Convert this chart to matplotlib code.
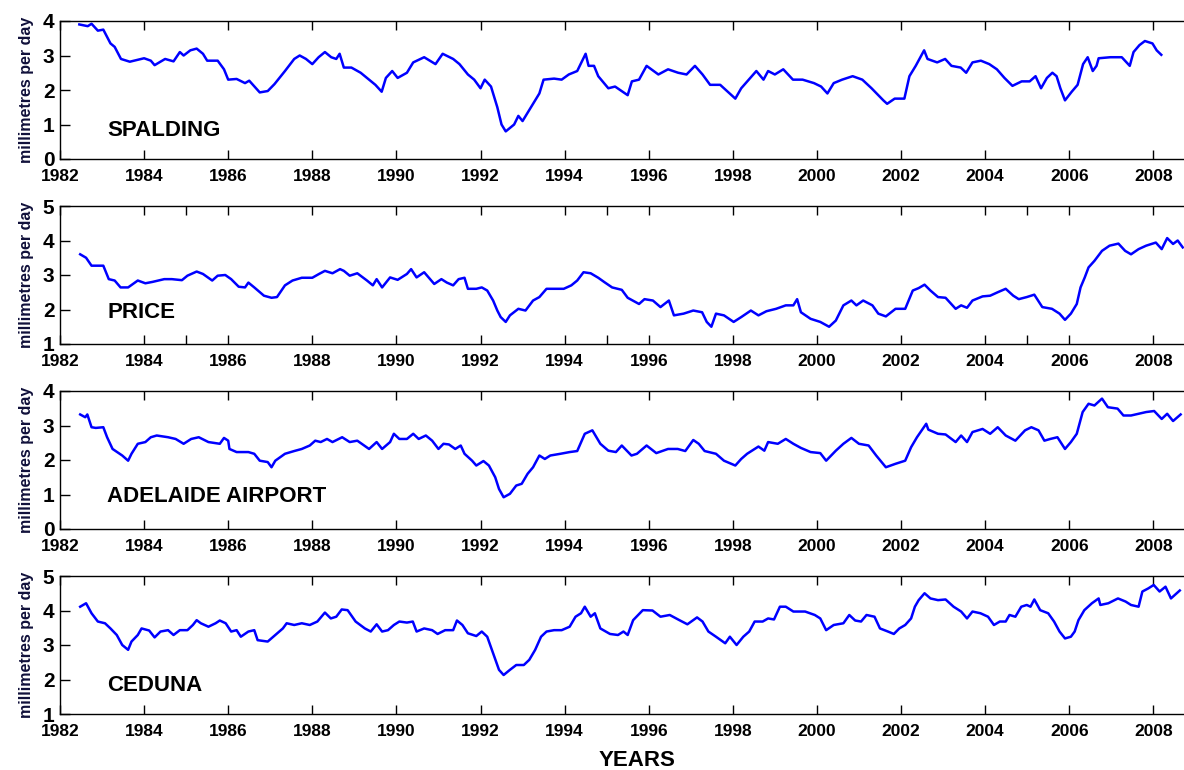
import matplotlib

matplotlib.use("Agg")
import matplotlib.pyplot as plt
from matplotlib.ticker import FixedLocator

# values, decimal years vs mm/day
spalding_t = [1982.46, 1982.66, 1982.75, 1982.9, 1983.03, 1983.2, 1983.3, 1983.45, 1983.66, 1984.0,
              1984.16, 1984.25, 1984.5, 1984.7, 1984.85, 1984.94, 1985.1, 1985.25, 1985.4, 1985.5,
              1985.75, 1985.9, 1986.0, 1986.2, 1986.4, 1986.5, 1986.75, 1986.94, 1987.1, 1987.35,
              1987.57, 1987.7, 1987.85, 1988.0, 1988.15, 1988.3, 1988.45, 1988.57, 1988.65, 1988.75,
              1988.93, 1989.15, 1989.4, 1989.5, 1989.65, 1989.75, 1989.9, 1990.03, 1990.25, 1990.4,
              1990.66, 1990.93, 1991.1, 1991.35, 1991.5, 1991.7, 1991.85, 1992.0, 1992.1, 1992.25,
              1992.4, 1992.5, 1992.6, 1992.8, 1992.9, 1993.0, 1993.2, 1993.4, 1993.5, 1993.75,
              1993.93, 1994.1, 1994.3, 1994.4, 1994.5, 1994.57, 1994.7, 1994.8, 1995.04, 1995.2,
              1995.5, 1995.6, 1995.77, 1995.95, 1996.23, 1996.46, 1996.7, 1996.9, 1997.1, 1997.28,
              1997.46, 1997.7, 1997.88, 1998.06, 1998.2, 1998.38, 1998.56, 1998.73, 1998.84, 1999.0,
              1999.2, 1999.43, 1999.66, 1999.93, 2000.1, 2000.25, 2000.4, 2000.6, 2000.85, 2001.08,
              2001.3, 2001.58, 2001.67, 2001.85, 2002.08, 2002.2, 2002.35, 2002.55, 2002.63, 2002.86,
              2003.05, 2003.2, 2003.42, 2003.55, 2003.7, 2003.9, 2004.1, 2004.28, 2004.46, 2004.65,
              2004.87, 2005.06, 2005.2, 2005.33, 2005.47, 2005.6, 2005.7, 2005.79, 2005.9, 2006.06,
              2006.2, 2006.33, 2006.44, 2006.56, 2006.65, 2006.7, 2006.98, 2007.25, 2007.44, 2007.53,
              2007.67, 2007.8, 2007.98, 2008.08, 2008.19]
spalding_v = [3.9, 3.85, 3.92, 3.72, 3.75, 3.35, 3.25, 2.9, 2.82, 2.92,
              2.85, 2.72, 2.9, 2.83, 3.1, 3.0, 3.15, 3.2, 3.05, 2.85,
              2.85, 2.6, 2.3, 2.32, 2.2, 2.27, 1.93, 1.97, 2.17, 2.55,
              2.9, 3.0, 2.9, 2.75, 2.95, 3.1, 2.95, 2.9, 3.05, 2.65,
              2.65, 2.5, 2.25, 2.15, 1.95, 2.35, 2.55, 2.35, 2.5, 2.8,
              2.95, 2.75, 3.05, 2.9, 2.75, 2.45, 2.3, 2.05, 2.3, 2.1,
              1.5, 1.0, 0.8, 1.0, 1.25, 1.1, 1.5, 1.9, 2.3, 2.33,
              2.3, 2.45, 2.55, 2.8, 3.05, 2.7, 2.7, 2.4, 2.05, 2.1,
              1.85, 2.25, 2.3, 2.7, 2.45, 2.6, 2.5, 2.45, 2.7, 2.45,
              2.15, 2.15, 1.95, 1.75, 2.05, 2.3, 2.55, 2.3, 2.55, 2.45,
              2.6, 2.3, 2.3, 2.2, 2.1, 1.9, 2.2, 2.3, 2.4, 2.3,
              2.05, 1.7, 1.6, 1.75, 1.75, 2.4, 2.7, 3.15, 2.9, 2.8,
              2.9, 2.7, 2.65, 2.5, 2.8, 2.85, 2.75, 2.6, 2.35, 2.12,
              2.25, 2.25, 2.4, 2.05, 2.35, 2.5, 2.4, 2.05, 1.7, 1.95,
              2.15, 2.75, 2.95, 2.55, 2.7, 2.92, 2.95, 2.95, 2.7, 3.1,
              3.3, 3.42, 3.35, 3.15, 3.02]

price_t = [1982.48, 1982.62, 1982.75, 1983.03, 1983.16, 1983.3, 1983.44, 1983.62, 1983.85, 1984.03,
           1984.2, 1984.48, 1984.66, 1984.9, 1985.03, 1985.25, 1985.4, 1985.62, 1985.75, 1985.93,
           1986.07, 1986.25, 1986.4, 1986.48, 1986.62, 1986.85, 1987.03, 1987.16, 1987.35, 1987.53,
           1987.75, 1988.0, 1988.16, 1988.3, 1988.48, 1988.66, 1988.75, 1988.89, 1989.07, 1989.3,
           1989.44, 1989.53, 1989.66, 1989.85, 1990.03, 1990.25, 1990.35, 1990.48, 1990.66, 1990.9,
           1991.07, 1991.2, 1991.35, 1991.48, 1991.62, 1991.7, 1991.9, 1992.03, 1992.16, 1992.3,
           1992.4, 1992.48, 1992.6, 1992.7, 1992.9, 1993.07, 1993.25, 1993.4, 1993.57, 1993.8,
           1993.98, 1994.16, 1994.3, 1994.45, 1994.62, 1994.8, 1994.95, 1995.13, 1995.36, 1995.5,
           1995.77, 1995.9, 1996.1, 1996.28, 1996.48, 1996.6, 1996.83, 1997.06, 1997.27, 1997.38,
           1997.49, 1997.6, 1997.79, 1998.02, 1998.2, 1998.43, 1998.61, 1998.8, 1999.03, 1999.26,
           1999.44, 1999.53, 1999.62, 1999.85, 2000.08, 2000.29, 2000.45, 2000.63, 2000.82, 2000.94,
           2001.1, 2001.32, 2001.46, 2001.64, 2001.87, 2002.1, 2002.28, 2002.42, 2002.56, 2002.7,
           2002.88, 2003.06, 2003.3, 2003.43, 2003.57, 2003.7, 2003.94, 2004.12, 2004.3, 2004.49,
           2004.67, 2004.8, 2004.99, 2005.17, 2005.36, 2005.59, 2005.77, 2005.9, 2006.04, 2006.18,
           2006.27, 2006.37, 2006.46, 2006.6, 2006.78, 2006.96, 2007.17, 2007.33, 2007.47, 2007.65,
           2007.83, 2008.06, 2008.2, 2008.33, 2008.47, 2008.58, 2008.7]
price_v = [3.6, 3.5, 3.27, 3.27, 2.88, 2.84, 2.64, 2.64, 2.84, 2.76,
           2.8, 2.88, 2.88, 2.85, 2.98, 3.1, 3.03, 2.84, 2.98, 3.0,
           2.88, 2.66, 2.64, 2.78, 2.64, 2.4, 2.34, 2.36, 2.7, 2.84,
           2.92, 2.92, 3.03, 3.12, 3.05, 3.17, 3.12, 2.98, 3.05, 2.84,
           2.7, 2.88, 2.64, 2.93, 2.86, 3.03, 3.17, 2.93, 3.08, 2.74,
           2.88, 2.78, 2.7, 2.88, 2.92, 2.6, 2.6, 2.64, 2.55, 2.26,
           1.97, 1.78, 1.64, 1.83, 2.02, 1.97, 2.26, 2.36, 2.6, 2.6,
           2.6, 2.7, 2.84, 3.08, 3.05, 2.92, 2.79, 2.64, 2.57, 2.34,
           2.16, 2.3, 2.26, 2.07, 2.26, 1.83, 1.88, 1.97, 1.92, 1.64,
           1.5, 1.88, 1.83, 1.64, 1.78, 1.97, 1.83, 1.95, 2.02, 2.12,
           2.12, 2.3, 1.92, 1.73, 1.64, 1.5, 1.68, 2.12, 2.26, 2.12,
           2.26, 2.12, 1.88, 1.8, 2.02, 2.02, 2.55, 2.62, 2.72, 2.55,
           2.36, 2.34, 2.02, 2.12, 2.05, 2.26, 2.38, 2.4, 2.5, 2.6,
           2.4, 2.3, 2.36, 2.43, 2.07, 2.02, 1.88, 1.7, 1.88, 2.16,
           2.64, 2.93, 3.22, 3.41, 3.7, 3.85, 3.91, 3.7, 3.6, 3.75,
           3.85, 3.94, 3.75, 4.07, 3.9, 4.0, 3.8]

adelaide_t = [1982.48, 1982.6, 1982.65, 1982.75, 1982.85, 1983.03, 1983.12, 1983.25, 1983.48, 1983.62,
              1983.7, 1983.85, 1984.03, 1984.16, 1984.3, 1984.57, 1984.75, 1984.94, 1985.12, 1985.3,
              1985.53, 1985.8, 1985.9, 1986.0, 1986.03, 1986.2, 1986.48, 1986.62, 1986.75, 1986.94,
              1987.03, 1987.12, 1987.35, 1987.57, 1987.75, 1987.94, 1988.07, 1988.2, 1988.35, 1988.48,
              1988.71, 1988.89, 1989.07, 1989.35, 1989.53, 1989.66, 1989.85, 1989.94, 1990.07, 1990.25,
              1990.4, 1990.53, 1990.7, 1990.85, 1991.0, 1991.12, 1991.25, 1991.4, 1991.53, 1991.62,
              1991.8, 1991.9, 1992.07, 1992.2, 1992.35, 1992.44, 1992.55, 1992.7, 1992.85, 1992.98,
              1993.12, 1993.25, 1993.4, 1993.53, 1993.66, 1993.9, 1994.12, 1994.3, 1994.48, 1994.66,
              1994.85, 1995.04, 1995.22, 1995.36, 1995.59, 1995.72, 1995.95, 1996.18, 1996.46, 1996.69,
              1996.87, 1997.06, 1997.19, 1997.33, 1997.6, 1997.79, 1998.06, 1998.2, 1998.34, 1998.61,
              1998.75, 1998.84, 1999.07, 1999.26, 1999.44, 1999.62, 1999.85, 2000.08, 2000.22, 2000.45,
              2000.63, 2000.82, 2001.0, 2001.23, 2001.41, 2001.64, 2001.87, 2002.1, 2002.24, 2002.38,
              2002.6, 2002.65, 2002.88, 2003.06, 2003.3, 2003.43, 2003.57, 2003.7, 2003.94, 2004.12,
              2004.3, 2004.49, 2004.72, 2004.95, 2005.1, 2005.27, 2005.41, 2005.55, 2005.72, 2005.9,
              2006.04, 2006.18, 2006.32, 2006.46, 2006.6, 2006.78, 2006.92, 2007.15, 2007.29, 2007.47,
              2007.65, 2007.83, 2008.02, 2008.2, 2008.33, 2008.47, 2008.65]
adelaide_v = [3.32, 3.24, 3.32, 2.95, 2.93, 2.95, 2.66, 2.32, 2.13, 1.98,
              2.18, 2.47, 2.52, 2.66, 2.71, 2.66, 2.61, 2.47, 2.61, 2.66,
              2.52, 2.47, 2.64, 2.56, 2.32, 2.23, 2.23, 2.18, 1.98, 1.94,
              1.79, 1.98, 2.18, 2.26, 2.32, 2.42, 2.56, 2.52, 2.61, 2.52,
              2.66, 2.52, 2.56, 2.32, 2.52, 2.32, 2.52, 2.76, 2.61, 2.61,
              2.76, 2.61, 2.71, 2.56, 2.32, 2.47, 2.45, 2.32, 2.42, 2.18,
              1.98, 1.84, 1.97, 1.84, 1.5, 1.16, 0.92, 1.02, 1.26, 1.31,
              1.6, 1.79, 2.13, 2.03, 2.13, 2.18, 2.23, 2.26, 2.76, 2.86,
              2.47, 2.27, 2.23, 2.42, 2.13, 2.18, 2.42, 2.2, 2.32, 2.32,
              2.26, 2.58, 2.47, 2.26, 2.18, 1.98, 1.84, 2.03, 2.18, 2.39,
              2.27, 2.52, 2.47, 2.61, 2.47, 2.35, 2.23, 2.2, 1.98, 2.27,
              2.47, 2.64, 2.47, 2.42, 2.13, 1.79, 1.89, 1.98, 2.37, 2.66,
              3.05, 2.88, 2.76, 2.74, 2.52, 2.71, 2.52, 2.81, 2.9, 2.76,
              2.95, 2.71, 2.56, 2.86, 2.95, 2.86, 2.56, 2.61, 2.66, 2.32,
              2.52, 2.76, 3.39, 3.63, 3.58, 3.78, 3.53, 3.49, 3.29, 3.29,
              3.34, 3.39, 3.42, 3.19, 3.34, 3.13, 3.32]

ceduna_t = [1982.48, 1982.62, 1982.75, 1982.9, 1983.07, 1983.2, 1983.35, 1983.48, 1983.62, 1983.7,
            1983.85, 1983.94, 1984.12, 1984.25, 1984.39, 1984.57, 1984.7, 1984.85, 1985.03, 1985.16,
            1985.25, 1985.35, 1985.53, 1985.7, 1985.8, 1985.94, 1986.07, 1986.2, 1986.3, 1986.48,
            1986.62, 1986.7, 1986.94, 1987.12, 1987.3, 1987.39, 1987.57, 1987.75, 1987.94, 1988.12,
            1988.3, 1988.44, 1988.57, 1988.7, 1988.84, 1989.03, 1989.25, 1989.39, 1989.53, 1989.66,
            1989.8, 1989.94, 1990.07, 1990.25, 1990.39, 1990.48, 1990.66, 1990.85, 1990.98, 1991.16,
            1991.35, 1991.44, 1991.57, 1991.7, 1991.9, 1992.03, 1992.16, 1992.3, 1992.44, 1992.55,
            1992.7, 1992.85, 1993.03, 1993.16, 1993.3, 1993.44, 1993.57, 1993.75, 1993.93, 1994.12,
            1994.26, 1994.39, 1994.48, 1994.62, 1994.72, 1994.85, 1995.08, 1995.27, 1995.4, 1995.5,
            1995.63, 1995.86, 1996.09, 1996.28, 1996.5, 1996.73, 1996.92, 1997.15, 1997.28, 1997.42,
            1997.6, 1997.82, 1997.93, 1998.09, 1998.25, 1998.39, 1998.52, 1998.71, 1998.84, 1998.98,
            1999.12, 1999.26, 1999.44, 1999.72, 1999.95, 2000.08, 2000.22, 2000.4, 2000.63, 2000.77,
            2000.91, 2001.05, 2001.18, 2001.37, 2001.5, 2001.69, 2001.83, 2001.96, 2002.1, 2002.24,
            2002.33, 2002.42, 2002.56, 2002.7, 2002.88, 2003.06, 2003.25, 2003.43, 2003.57, 2003.7,
            2003.89, 2004.07, 2004.21, 2004.35, 2004.49, 2004.58, 2004.72, 2004.86, 2004.99, 2005.08,
            2005.17, 2005.31, 2005.5, 2005.64, 2005.77, 2005.9, 2006.04, 2006.13, 2006.22, 2006.36,
            2006.54, 2006.7, 2006.74, 2006.93, 2007.16, 2007.34, 2007.47, 2007.65, 2007.74, 2007.88,
            2008.01, 2008.15, 2008.29, 2008.42, 2008.51, 2008.63]
ceduna_v = [4.11, 4.21, 3.92, 3.68, 3.63, 3.48, 3.29, 3.0, 2.86, 3.1,
            3.29, 3.48, 3.42, 3.22, 3.39, 3.43, 3.29, 3.43, 3.43, 3.58,
            3.72, 3.63, 3.53, 3.63, 3.71, 3.63, 3.39, 3.43, 3.24, 3.39,
            3.43, 3.14, 3.1, 3.29, 3.48, 3.63, 3.58, 3.63, 3.58, 3.68,
            3.94, 3.77, 3.82, 4.03, 4.01, 3.68, 3.48, 3.39, 3.6, 3.39,
            3.43, 3.58, 3.68, 3.65, 3.68, 3.39, 3.48, 3.43, 3.32, 3.43,
            3.43, 3.71, 3.58, 3.34, 3.26, 3.39, 3.24, 2.76, 2.28, 2.13,
            2.28, 2.42, 2.42, 2.57, 2.86, 3.24, 3.39, 3.43, 3.43, 3.53,
            3.82, 3.92, 4.11, 3.82, 3.92, 3.48, 3.32, 3.29, 3.39, 3.29,
            3.72, 4.01, 4.0, 3.82, 3.87, 3.72, 3.6, 3.8, 3.68, 3.39,
            3.24, 3.05, 3.24, 3.0, 3.24, 3.39, 3.68, 3.68, 3.77, 3.74,
            4.11, 4.11, 3.97, 3.97, 3.87, 3.77, 3.43, 3.58, 3.63, 3.87,
            3.71, 3.68, 3.87, 3.82, 3.48, 3.39, 3.32, 3.48, 3.58, 3.77,
            4.11, 4.3, 4.5, 4.35, 4.3, 4.32, 4.11, 3.97, 3.77, 3.97,
            3.92, 3.82, 3.58, 3.68, 3.68, 3.87, 3.82, 4.11, 4.16, 4.11,
            4.32, 4.01, 3.92, 3.68, 3.39, 3.19, 3.24, 3.39, 3.72, 4.01,
            4.21, 4.35, 4.16, 4.21, 4.35, 4.26, 4.16, 4.11, 4.55, 4.64,
            4.74, 4.55, 4.69, 4.35, 4.45, 4.58]

station_names = ["SPALDING", "PRICE", "ADELAIDE AIRPORT", "CEDUNA"]
y_ranges = [(0, 4), (1, 5), (0, 4), (1, 5)]
year_ticks = list(range(1982, 2009, 2))

W, H = 1184, 770
# panel boxes in pixels: (top, bottom)
boxes = [(21, 159), (206, 344), (391, 529), (576, 714)]
left_px = 60
px_per_year = 42.05
x0, x1 = 1982, 2009
label_y = [0.82, 1.9, 0.93, 1.84]

fig = plt.figure(figsize=(W / 100, H / 100), dpi=100)
plt.rcParams["font.family"] = ["Liberation Sans", "DejaVu Sans"]

series = [(spalding_t, spalding_v), (price_t, price_v), (adelaide_t, adelaide_v), (ceduna_t, ceduna_v)]

for i, (t, v) in enumerate(series):
    top, bot = boxes[i]
    w = (x1 - x0) * px_per_year
    ax = fig.add_axes([left_px / W, 1 - bot / H, w / W, (bot - top) / H])
    ax.plot(t, v, color="#0000ff", lw=1.8)
    ax.set_xlim(x0, x1)
    lo, hi = y_ranges[i]
    ax.set_ylim(lo, hi)
    ax.set_yticks(range(lo, hi + 1))
    ax.set_xticks(year_ticks)
    if i == 1:
        # odd extra ticks that show up in this panel
        ax.xaxis.set_minor_locator(FixedLocator([1985, 1995, 2005]))
    ax.tick_params(which="both", direction="in", top=True, right=True, width=1)
    ax.tick_params(axis="x", which="both", length=6.5, labelsize=12.5, pad=7.5)
    ax.tick_params(axis="y", length=7.5, labelsize=15, pad=4)
    for lab in ax.get_xticklabels() + ax.get_yticklabels():
        lab.set_fontweight("bold")
    for s in ax.spines.values():
        s.set_linewidth(1.0)
    ax.set_ylabel("millimetres per day", fontsize=11.5, fontweight="bold", color="#10103a", labelpad=6)
    ax.text(1983.12, label_y[i], station_names[i], fontsize=16, fontweight="bold", va="center")

fig.text(637 / W, 1 - 760 / H, "YEARS", fontsize=16, fontweight="bold", ha="center", va="center")

fig.savefig("out.png", dpi=100)
